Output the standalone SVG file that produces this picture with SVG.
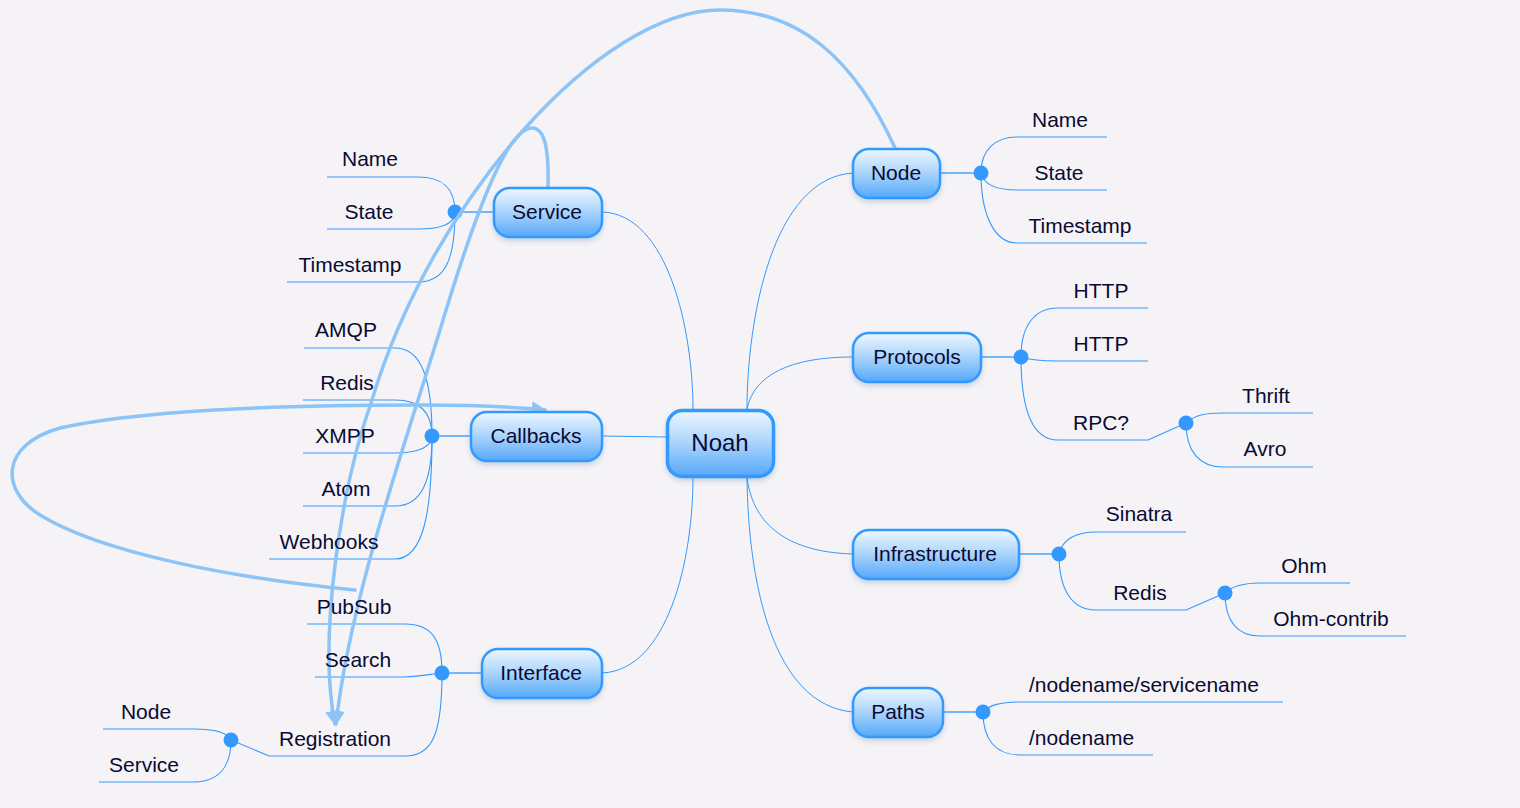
<svg xmlns="http://www.w3.org/2000/svg" width="1520" height="808" viewBox="0 0 1520 808">
<defs>
<linearGradient id="ng" x1="0" y1="0" x2="0" y2="1">
<stop offset="0" stop-color="#eef7ff"/>
<stop offset="0.45" stop-color="#b0d7fc"/>
<stop offset="1" stop-color="#55a8fa"/>
</linearGradient>
<filter id="sh" x="-20%" y="-20%" width="140%" height="150%">
<feDropShadow dx="0" dy="3" stdDeviation="2.5" flood-color="#3a6e9e" flood-opacity="0.25"/>
</filter>
<marker id="ah" viewBox="0 0 10 10" refX="9" refY="5" markerWidth="4.2" markerHeight="4.2" orient="auto" markerUnits="strokeWidth">
<path d="M0,0 L10,5 L0,10 Z" fill="#8cc4f8"/>
</marker>
<style>
.bg{fill:#f6f3f6}
.node rect{fill:url(#ng);stroke:#3399ff;stroke-width:2.5;filter:url(#sh)}
.node text{font-family:"Liberation Sans",Arial,sans-serif;font-size:21px;fill:#0a0a33;text-anchor:middle}
.leaf{font-family:"Liberation Sans",Arial,sans-serif;font-size:21px;fill:#0a0a33;text-anchor:middle}
.ul{fill:none;stroke:#3399ff;stroke-width:1.1}
.main{fill:none;stroke:#3399ff;stroke-width:1}
.stub{fill:none;stroke:#70b8fb;stroke-width:2}
.dot{fill:#3399ff}
.rel{fill:none;stroke:#8cc4f8;stroke-width:3.5;stroke-linecap:round}
</style>
</defs>
<rect class="bg" x="0" y="0" width="1520" height="808"/>

<g id="connectors">
<!-- main branches -->
<path class="main" d="M602,212 C668,214 693,330 693,410"/>
<path class="main" d="M602,436 L667,437"/>
<path class="main" d="M602,673 C668,670 693,560 693,477"/>
<path class="main" d="M853,173 C772,178 747,320 747,410"/>
<path class="main" d="M853,357 C782,357 752,380 747,410"/>
<path class="main" d="M853,554 C782,552 752,520 747,477"/>
<path class="main" d="M853,712 C772,705 748,580 747,477"/>
<!-- stubs to dots -->
<path class="stub" d="M494,212 L455,212"/>
<path class="stub" d="M471,436 L432,436"/>
<path class="stub" d="M482,673 L442,673"/>
<path class="stub" d="M940,173 L981,173"/>
<path class="stub" d="M981,357 L1021,357"/>
<path class="stub" d="M1019,554 L1059,554"/>
<path class="stub" d="M943,712 L983,712"/>
<!-- Service leaves -->
<path class="ul" d="M327,177 L418,177 C445,177 455,190 455,212"/>
<path class="ul" d="M327,229 L418,229 C445,229 455,222 455,212"/>
<path class="ul" d="M287,282 L418,282 C445,282 455,260 455,212"/>
<!-- Callbacks leaves -->
<path class="ul" d="M304,348 L395,348 C422,348 432,380 432,436"/>
<path class="ul" d="M303,400 L395,400 C422,400 432,415 432,436"/>
<path class="ul" d="M303,453 L395,453 C420,453 432,446 432,436"/>
<path class="ul" d="M303,506 L395,506 C422,506 432,480 432,436"/>
<path class="ul" d="M269,559 L395,559 C424,559 432,510 432,436"/>
<!-- Interface leaves -->
<path class="ul" d="M307,624 L405,624 C432,624 442,640 442,673"/>
<path class="ul" d="M315,677 L405,677 C420,676 432,674 442,673"/>
<path class="ul" d="M269,756 L405,756 C432,756 442,735 442,673"/>
<!-- Registration sub-leaves -->
<path class="ul" d="M269,756 L231,740"/>
<path class="ul" d="M103,729 L193,729 C215,729 228,733 231,740"/>
<path class="ul" d="M99,782 L193,782 C220,782 231,765 231,740"/>
<!-- Node leaves -->
<path class="ul" d="M981,173 C981,150 995,137 1017,137 L1107,137"/>
<path class="ul" d="M981,173 C984,186 1000,190 1017,190 L1107,190"/>
<path class="ul" d="M981,173 C981,216 995,243 1017,243 L1147,243"/>
<!-- Protocols leaves -->
<path class="ul" d="M1021,357 C1021,325 1035,308 1058,308 L1148,308"/>
<path class="ul" d="M1021,357 C1030,360 1045,361 1058,361 L1148,361"/>
<path class="ul" d="M1021,357 C1021,415 1035,440 1058,440 L1148,440 L1186,423"/>
<path class="ul" d="M1186,423 C1195,415 1205,413 1223,413 L1313,413"/>
<path class="ul" d="M1186,423 C1186,452 1200,467 1223,467 L1313,467"/>
<!-- Infrastructure leaves -->
<path class="ul" d="M1059,554 C1062,540 1075,532 1096,532 L1186,532"/>
<path class="ul" d="M1059,554 C1059,590 1072,610 1096,610 L1186,610 L1225,593"/>
<path class="ul" d="M1225,593 C1232,586 1243,583 1260,583 L1350,583"/>
<path class="ul" d="M1225,593 C1225,622 1238,636 1260,636 L1406,636"/>
<!-- Paths leaves -->
<path class="ul" d="M983,712 C990,705 1000,702 1020,702 L1283,702"/>
<path class="ul" d="M983,712 C983,740 996,755 1020,755 L1153,755"/>
<!-- dots -->
<circle class="dot" cx="455" cy="212" r="7.5"/>
<circle class="dot" cx="432" cy="436" r="7.5"/>
<circle class="dot" cx="442" cy="673" r="7.5"/>
<circle class="dot" cx="231" cy="740" r="7.5"/>
<circle class="dot" cx="981" cy="173" r="7.5"/>
<circle class="dot" cx="1021" cy="357" r="7.5"/>
<circle class="dot" cx="1186" cy="423" r="7.5"/>
<circle class="dot" cx="1059" cy="554" r="7.5"/>
<circle class="dot" cx="1225" cy="593" r="7.5"/>
<circle class="dot" cx="983" cy="712" r="7.5"/>
<!-- relationship arrows -->
<path class="rel" d="M895,148 C855,60 800,10 720,10 C600,10 432,200 372,400 C340,490 318,640 335,724" marker-end="url(#ah)"/>
<path class="rel" d="M548,187 C549,150 545,128 532,128 C505,128 470,230 440,330 C400,460 350,600 336,724" marker-end="url(#ah)"/>
<path class="rel" d="M355,590 C230,578 100,552 40,515 C0,490 0,445 60,428 C150,408 300,405 420,405 C480,405 515,407 545,410" marker-end="url(#ah)"/>
</g>

<g id="noah" class="node">
<rect x="667.5" y="410.5" width="106" height="66" rx="15" style="stroke-width:3.5"/>
<text x="720" y="451" style="font-size:24px">Noah</text>
</g>
<g id="node-service" class="node">
<rect x="494" y="188" width="108" height="49" rx="16"/>
<text x="547" y="219">Service</text>
</g>
<g id="node-callbacks" class="node">
<rect x="471" y="412" width="131" height="49" rx="16"/>
<text x="536" y="443">Callbacks</text>
</g>
<g id="node-interface" class="node">
<rect x="482" y="649" width="120" height="49" rx="16"/>
<text x="541" y="680">Interface</text>
</g>
<g id="node-node" class="node">
<rect x="853" y="149" width="87" height="49" rx="16"/>
<text x="896" y="180">Node</text>
</g>
<g id="node-protocols" class="node">
<rect x="853" y="333" width="128" height="49" rx="16"/>
<text x="917" y="364">Protocols</text>
</g>
<g id="node-infrastructure" class="node">
<rect x="853" y="530" width="166" height="49" rx="16"/>
<text x="935" y="561">Infrastructure</text>
</g>
<g id="node-paths" class="node">
<rect x="853" y="688" width="90" height="49" rx="16"/>
<text x="898" y="719">Paths</text>
</g>

<g id="leaves-service">
<text class="leaf" x="370" y="166">Name</text>
<text class="leaf" x="369" y="219">State</text>
<text class="leaf" x="350" y="272">Timestamp</text>
</g>
<g id="leaves-callbacks">
<text class="leaf" x="346" y="337">AMQP</text>
<text class="leaf" x="347" y="390">Redis</text>
<text class="leaf" x="345" y="443">XMPP</text>
<text class="leaf" x="346" y="496">Atom</text>
<text class="leaf" x="329" y="549">Webhooks</text>
</g>
<g id="leaves-interface">
<text class="leaf" x="354" y="614">PubSub</text>
<text class="leaf" x="358" y="667">Search</text>
<text class="leaf" x="335" y="746">Registration</text>
<text class="leaf" x="146" y="719">Node</text>
<text class="leaf" x="144" y="772">Service</text>
</g>
<g id="leaves-node">
<text class="leaf" x="1060" y="127">Name</text>
<text class="leaf" x="1059" y="180">State</text>
<text class="leaf" x="1080" y="233">Timestamp</text>
</g>
<g id="leaves-protocols">
<text class="leaf" x="1101" y="298">HTTP</text>
<text class="leaf" x="1101" y="351">HTTP</text>
<text class="leaf" x="1101" y="430">RPC?</text>
<text class="leaf" x="1266" y="403">Thrift</text>
<text class="leaf" x="1265" y="456">Avro</text>
</g>
<g id="leaves-infrastructure">
<text class="leaf" x="1139" y="521">Sinatra</text>
<text class="leaf" x="1140" y="600">Redis</text>
<text class="leaf" x="1304" y="573">Ohm</text>
<text class="leaf" x="1331" y="626">Ohm-contrib</text>
</g>
<g id="leaves-paths">
<text class="leaf" x="1029" y="692" style="text-anchor:start">/nodename/servicename</text>
<text class="leaf" x="1029" y="745" style="text-anchor:start">/nodename</text>
</g>
</svg>
